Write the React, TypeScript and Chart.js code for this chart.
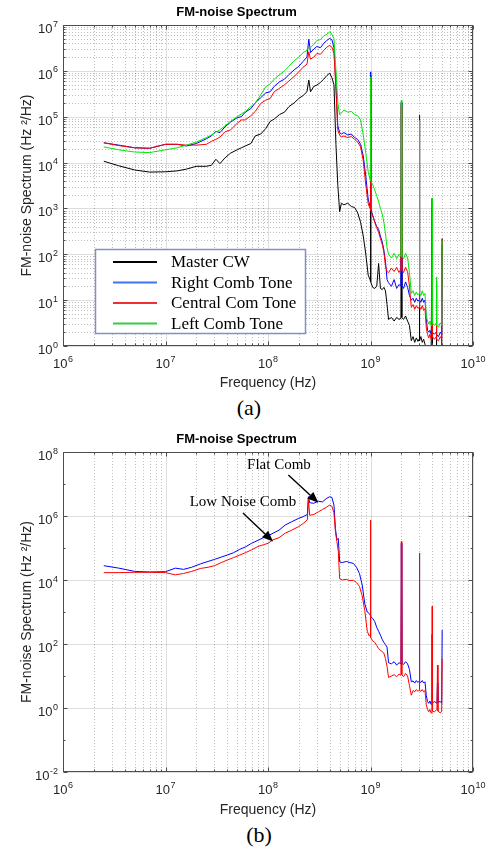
import React, { useEffect, useRef } from "react";
import { Chart, registerables } from "chart.js";

Chart.register(...registerables);

// ---------------- data: panel (a) ----------------
const FREQ_A = [
  2.5e6, 3.5e6, 5e6, 7e6, 1e7, 1.3e7, 1.6e7, 2e7, 2.5e7, 2.8e7,
  3.1e7, 3.4e7, 3.8e7, 4.3e7, 5e7, 5.5e7, 6e7, 6.8e7, 7.5e7, 8.5e7,
  9.5e7, 1.05e8, 1.15e8, 1.3e8, 1.45e8, 1.6e8, 1.8e8, 2e8, 2.2e8, 2.4e8,
  2.5e8, 2.6e8, 2.8e8, 3e8, 3.25e8, 3.5e8, 3.75e8, 4e8, 4.2e8, 4.4e8,
  4.6e8, 4.8e8, 5e8, 5.2e8, 5.5e8, 6e8, 6.5e8, 7e8, 7.5e8, 8e8,
  8.5e8, 9e8, 9.5e8, 9.9e8, 1e9, 1.01e9, 1.05e9, 1.1e9, 1.15e9, 1.2e9,
  1.25e9, 1.3e9, 1.35e9, 1.4e9, 1.45e9, 1.5e9, 1.6e9, 1.7e9, 1.8e9, 1.9e9,
  1.98e9, 2e9, 2.02e9, 2.1e9, 2.2e9, 2.3e9, 2.4e9, 2.5e9, 2.6e9, 2.7e9,
  2.8e9, 2.9e9, 2.98e9, 3e9, 3.02e9, 3.1e9, 3.2e9, 3.3e9, 3.4e9, 3.5e9,
  3.6e9, 3.7e9, 3.8e9, 3.9e9, 3.98e9, 4e9, 4.02e9, 4.2e9, 4.38e9, 4.4e9,
  4.42e9, 4.6e9, 4.8e9, 4.95e9, 5e9,
];

const MASTER_CW = [
  1.07e4, 8.5e3, 6.9e3, 6.2e3, 6.3e3, 6.6e3, 7.2e3, 8.3e3, 8.3e3, 8.7e3,
  1.18e4, 9.5e3, 1.26e4, 1.6e4, 1.9e4, 2.1e4, 2.3e4, 2.6e4, 3.8e4, 4.2e4,
  5.5e4, 7.9e4, 8.9e4, 1.12e5, 1.26e5, 1.66e5, 2e5, 2.5e5, 2.9e5, 3.5e5,
  6.3e5, 3.5e5, 4.6e5, 4.9e5, 5.6e5, 6.6e5, 7.9e5, 8.9e5, 7.1e5, 5e5,
  2.5e4, 3.2e3, 850, 1.3e3, 1.2e3, 1.3e3, 1.1e3, 1.05e3, 800, 500,
  250, 100, 35, 28, 8e5, 25, 19, 18, 20, 63,
  18, 17, 19, 16, 8, 3.8, 4.2, 3.5, 4.2, 3.8,
  4, 2.1e5, 4.2, 3.8, 4.5, 3.5, 2.8, 1.3, 1.6, 1.2,
  1.5, 1.26, 1.4, 8.5e4, 1.3, 1.6, 1.2, 1.4, 1.1, 0.8,
  0.63, 0.5, 0.56, 0.5, 0.5, 1.66e3, 0.5, 0.5, 0.5, 32,
  0.5, 0.5, 0.5, 0.5, 220,
];

const RIGHT_COMB = [
  2.7e4, 2.4e4, 2.1e4, 2.05e4, 2.5e4, 2.5e4, 2.3e4, 2.6e4, 3.3e4, 3.8e4,
  4.8e4, 4.5e4, 6e4, 7.6e4, 9.5e4, 1e5, 1.26e5, 1.5e5, 2e5, 2.6e5,
  3.3e5, 3.5e5, 4.6e5, 5.8e5, 6.6e5, 8.3e5, 1.05e6, 1.26e6, 1.6e6, 2e6,
  4.9e6, 2.5e6, 3e6, 3.4e6, 3.2e6, 4e6, 4.6e6, 5.1e6, 4.8e6, 3.2e6,
  5e5, 6.3e4, 4.5e4, 4.2e4, 4.5e4, 4e4, 4.2e4, 3.5e4, 3.2e4, 2.5e4,
  1.4e4, 5e3, 1.6e3, 1.1e3, 9.5e5, 1e3, 700, 520, 400, 350,
  250, 190, 125, 70, 28, 24, 20, 28, 18, 22,
  20, 2e5, 21, 18, 25, 19, 12.6, 10, 11, 9,
  11, 9.5, 10, 1.1e5, 10, 9, 11, 9, 10, 4,
  2.2, 2, 2.2, 1.8, 2, 1e3, 2, 1.8, 2, 25,
  1.8, 1.6, 2, 1.8, 160,
];

const CENTRAL_COMB = [
  2.7e4, 2.35e4, 2.1e4, 2.05e4, 2.5e4, 2.5e4, 2.4e4, 2.4e4, 2.5e4, 2.9e4,
  3.2e4, 3.6e4, 4.7e4, 5.1e4, 7.2e4, 8.5e4, 8.5e4, 1.05e5, 1.3e5, 1.95e5,
  2.3e5, 2.5e5, 3.5e5, 4.2e5, 5e5, 6e5, 7.6e5, 9.5e5, 1.2e6, 1.4e6,
  2.6e6, 1.8e6, 2e6, 2.4e6, 2.3e6, 2.8e6, 3.3e6, 3.6e6, 3.3e6, 2.4e6,
  4e5, 5e4, 4e4, 3.6e4, 3.8e4, 3.5e4, 3.7e4, 3.2e4, 2.8e4, 2.2e4,
  1.1e4, 3.2e3, 1.26e3, 1e3, 7e5, 900, 700, 500, 380, 300,
  220, 166, 112, 56, 42, 40, 50, 42, 52, 40,
  48, 1.8e5, 45, 40, 52, 42, 20, 7, 8, 6.3,
  7.6, 6.6, 7, 8e4, 7, 6.3, 7.6, 6, 6.6, 2.5,
  1.8, 1.5, 1.8, 1.4, 1.66, 800, 1.6, 1.4, 1.6, 16,
  1.4, 1.3, 1.6, 1.4, 220,
];

const LEFT_COMB = [
  2.2e4, 1.9e4, 1.7e4, 1.65e4, 1.9e4, 2.1e4, 2.4e4, 2.8e4, 3.5e4, 4e4,
  4.6e4, 5.2e4, 6.3e4, 7.9e4, 1e5, 1.15e5, 1.3e5, 1.66e5, 2e5, 3e5,
  4.5e5, 5.2e5, 6.6e5, 8.3e5, 1e6, 1.26e6, 1.66e6, 2e6, 2.5e6, 2.8e6,
  3.3e6, 3.2e6, 3.8e6, 4.6e6, 4.8e6, 5.8e6, 6.3e6, 7.1e6, 6.3e6, 5e6,
  1.05e6, 2e5, 1.1e5, 1.2e5, 1.4e5, 1.26e5, 1.3e5, 1.12e5, 1.05e5, 8.5e4,
  4e4, 1.6e4, 6.3e3, 4.2e3, 7.4e5, 4e3, 3.3e3, 2.5e3, 1.9e3, 1.4e3,
  1e3, 760, 500, 280, 140, 100, 83, 105, 80, 100,
  90, 2.3e5, 90, 80, 105, 83, 40, 14, 16, 12.6,
  15, 13, 14, 8.3e4, 14, 12.6, 16, 12.6, 14, 4.5,
  3.5, 3, 3.5, 2.8, 3.3, 1.66e3, 3.2, 2.8, 3.2, 32,
  2.8, 2.6, 3.2, 2.8, 200,
];

// ---------------- data: panel (b) ----------------
const FREQ_B = [
  2.5e6, 3.5e6, 5e6, 7e6, 1e7, 1.25e7, 1.5e7, 1.8e7, 2.2e7, 2.6e7,
  3e7, 3.5e7, 4e7, 4.6e7, 5.3e7, 6e7, 6.9e7, 8e7, 9e7, 1e8,
  1.12e8, 1.28e8, 1.47e8, 1.7e8, 2e8, 2.2e8, 2.42e8, 2.48e8, 2.55e8, 2.8e8,
  3.1e8, 3.4e8, 3.7e8, 4e8, 4.2e8, 4.4e8, 4.55e8, 4.7e8, 4.85e8, 5e8,
  5.3e8, 5.8e8, 6.3e8, 6.8e8, 7.3e8, 7.8e8, 8.3e8, 8.8e8, 9.3e8, 9.7e8,
  9.95e8, 1e9, 1.005e9, 1.05e9, 1.1e9, 1.15e9, 1.2e9, 1.25e9, 1.3e9, 1.35e9,
  1.4e9, 1.45e9, 1.5e9, 1.6e9, 1.7e9, 1.8e9, 1.9e9, 1.98e9, 2e9, 2.02e9,
  2.1e9, 2.2e9, 2.3e9, 2.4e9, 2.5e9, 2.6e9, 2.7e9, 2.8e9, 2.9e9, 2.98e9,
  3e9, 3.02e9, 3.1e9, 3.2e9, 3.3e9, 3.4e9, 3.5e9, 3.6e9, 3.7e9, 3.8e9,
  3.9e9, 3.98e9, 4e9, 4.02e9, 4.2e9, 4.45e9, 4.5e9, 4.55e9, 4.8e9, 4.95e9,
  5e9,
];

const FLAT_COMB = [
  2.8e4, 2.35e4, 1.86e4, 1.78e4, 1.82e4, 2.35e4, 2.15e4, 2.5e4, 3.2e4, 3.8e4,
  4.4e4, 5.2e4, 6e4, 7.1e4, 9.1e4, 1.07e5, 1.4e5, 1.74e5, 2.1e5, 2.4e5,
  2.9e5, 3.6e5, 5.2e5, 6.6e5, 8.5e5, 9.5e5, 1.12e6, 4e6, 2.6e6, 2.5e6,
  2.9e6, 2.75e6, 3.5e6, 4e6, 3.8e6, 2.2e6, 4e5, 1.8e5, 2e5, 3.7e4,
  3.5e4, 3.8e4, 3.5e4, 3.3e4, 2.5e4, 1.6e4, 7e3, 1.8e3, 1e3, 900,
  800, 760, 720, 630, 500, 330, 250, 190, 140, 112,
  95, 80, 26, 24, 28, 22, 26, 24, 1.4e5, 25,
  23, 28, 24, 16, 6.6, 7, 6, 7.2, 6.3, 6.9,
  7e4, 6.6, 6.3, 7.2, 6, 6.6, 2.5, 1.6, 1.4, 1.66,
  1.3, 1.5, 200, 1.4, 1.6, 1.4, 6, 1.5, 1.6, 1.4,
  275,
];

const LOW_NOISE_COMB = [
  1.7e4, 1.7e4, 1.74e4, 1.74e4, 1.7e4, 1.45e4, 1.6e4, 1.86e4, 2.3e4, 2.5e4,
  2.8e4, 3.5e4, 4.2e4, 5e4, 6e4, 7.1e4, 8.7e4, 1.12e5, 1.26e5, 1.4e5,
  1.8e5, 2.1e5, 2.9e5, 3.6e5, 4.7e5, 5.8e5, 7.6e5, 3.5e6, 1.05e6, 1.12e6,
  1.35e6, 1.6e6, 1.86e6, 2.2e6, 2e6, 1.26e6, 3.2e5, 1.6e5, 8e4, 1.1e4,
  1e4, 1.05e4, 9.5e3, 9.8e3, 8.3e3, 6.3e3, 3.2e3, 1.1e3, 250, 180,
  200, 7.5e5, 160, 126, 112, 90, 72, 63, 58, 52,
  35, 20, 9, 10, 11, 9.5, 11.5, 10.5, 1.6e5, 11,
  9.5, 12, 10, 5, 2.5, 3.5, 3.2, 3.8, 3.3, 3.6,
  7e4, 3.5, 3.3, 3.8, 3.2, 3.5, 1.26, 0.9, 0.76, 0.9,
  0.7, 0.83, 1.5e3, 0.8, 0.76, 0.9, 22, 0.8, 0.7, 0.8,
  35,
];

// ---------------- axes / text ----------------
const X_TICKS = [1e6, 1e7, 1e8, 1e9, 1e10];
const Y_TICKS_A = [1, 1e1, 1e2, 1e3, 1e4, 1e5, 1e6, 1e7];
const Y_TICKS_B = [1e-2, 1, 1e2, 1e4, 1e6, 1e8];

const LEGEND_LABELS_A = ["Master CW", "Right Comb Tone", "Central Com Tone", "Left Comb Tone"];
const LABELS_B = ["Flat Comb", "Low Noise Comb"];

// annotation anchors in data coordinates (frequency, spectrum value)
const NOTES_B = [
  { text: "Flat Comb", textX: 1.28e8, textY: 3.9e7, fromX: 1.58e8, fromY: 1.9e7, toX: 3.1e8, toY: 2.6e6 },
  { text: "Low Noise Comb", textX: 5.7e7, textY: 2.75e6, fromX: 5.7e7, fromY: 1.25e6, toX: 1.12e8, toY: 1.6e5 },
];

const TITLE = "FM-noise Spectrum";
const X_TITLE = "Frequency (Hz)";
const Y_TITLE = "FM-noise Spectrum (Hz \u00B2/Hz)";

const SANS = "'Liberation Sans', Arial, Helvetica, sans-serif";
const SERIF = "'Liberation Serif', 'Times New Roman', serif";
const TEXT_COLOR = "#262626";

function exponentOf(v: number): string {
  return String(Math.round(Math.log10(v)));
}

function minorValues(ticks: number[]): number[] {
  const out: number[] = [];
  for (let i = 0; i < ticks.length - 1; i++) {
    const lo = ticks[i];
    const hi = ticks[i + 1];
    if (hi / lo > 10.5) {
      for (let d = lo * 10; d < hi * 0.99; d *= 10) out.push(d);
    } else {
      for (let m = 2; m <= 9; m++) out.push(lo * m);
    }
  }
  return out;
}

function seg(ctx: CanvasRenderingContext2D, x1: number, y1: number, x2: number, y2: number) {
  ctx.beginPath();
  ctx.moveTo(x1, y1);
  ctx.lineTo(x2, y2);
  ctx.stroke();
}

// draws "10" with a raised exponent, MATLAB style
function drawPow(
  ctx: CanvasRenderingContext2D,
  v: number,
  x: number,
  y: number,
  align: "center" | "right",
  baseDy: number,
  expDy: number
) {
  const e = exponentOf(v);
  ctx.font = `13px ${SANS}`;
  const wb = ctx.measureText("10").width;
  ctx.font = `9px ${SANS}`;
  const we = ctx.measureText(e).width;
  const total = wb + 0.5 + we;
  const x0 = align === "center" ? x - total / 2 : x - total;
  ctx.textAlign = "left";
  ctx.textBaseline = "alphabetic";
  ctx.fillStyle = TEXT_COLOR;
  ctx.font = `13px ${SANS}`;
  ctx.fillText("10", x0, y + baseDy);
  ctx.font = `9px ${SANS}`;
  ctx.fillText(e, x0 + wb + 0.5, y + expDy);
}

const framePlugin = {
  id: "frame",
  beforeDatasetsDraw(chart: any, _a: any, opts: any) {
    const { ctx, chartArea: ca, scales } = chart;
    const xs = scales.x;
    const ys = scales.y;
    ctx.save();
    ctx.lineWidth = 1;
    ctx.strokeStyle = "rgba(0,0,0,0.25)";
    ctx.setLineDash([1, 2]);
    for (const v of minorValues(opts.xTicks)) {
      const px = Math.round(xs.getPixelForValue(v)) + 0.5;
      seg(ctx, px, ca.top, px, ca.bottom);
    }
    if (opts.yMinorGrid) {
      for (const v of minorValues(opts.yTicks)) {
        const py = Math.round(ys.getPixelForValue(v)) + 0.5;
        seg(ctx, ca.left, py, ca.right, py);
      }
    }
    ctx.setLineDash([]);
    ctx.strokeStyle = "rgba(0,0,0,0.13)";
    for (const v of opts.xTicks) {
      const px = Math.round(xs.getPixelForValue(v)) + 0.5;
      seg(ctx, px, ca.top, px, ca.bottom);
    }
    for (const v of opts.yTicks) {
      const py = Math.round(ys.getPixelForValue(v)) + 0.5;
      seg(ctx, ca.left, py, ca.right, py);
    }
    ctx.restore();
  },
  afterDatasetsDraw(chart: any, _a: any, opts: any) {
    const { ctx, chartArea: ca, scales } = chart;
    const xs = scales.x;
    const ys = scales.y;
    ctx.save();
    ctx.strokeStyle = "#4d4d4d";
    ctx.lineWidth = 1;
    const L = Math.round(ca.left) + 0.5;
    const R = Math.round(ca.right) - 0.5;
    const T = Math.round(ca.top) + 0.5;
    const B = Math.round(ca.bottom) - 0.5;
    ctx.strokeRect(L, T, R - L, B - T);
    const tickX = (v: number, len: number) => {
      const px = Math.round(xs.getPixelForValue(v)) + 0.5;
      seg(ctx, px, B, px, B - len);
      seg(ctx, px, T, px, T + len);
    };
    const tickY = (v: number, len: number) => {
      const py = Math.round(ys.getPixelForValue(v)) + 0.5;
      seg(ctx, L, py, L + len, py);
      seg(ctx, R, py, R - len, py);
    };
    opts.xTicks.forEach((v: number) => tickX(v, 4));
    minorValues(opts.xTicks).forEach((v: number) => tickX(v, 2));
    opts.yTicks.forEach((v: number) => tickY(v, 4));
    minorValues(opts.yTicks).forEach((v: number) => tickY(v, 2));
    // tick labels (power-of-ten with superscript exponent)
    for (const v of opts.xTicks) {
      drawPow(ctx, v, xs.getPixelForValue(v), ca.bottom, "center", 21.5, 15.5);
    }
    for (const v of opts.yTicks) {
      drawPow(ctx, v, ca.left - 5, ys.getPixelForValue(v), "right", 8, 1.5);
    }
    ctx.restore();
  },
};

const boxLegendPlugin = {
  id: "boxLegend",
  afterDatasetsDraw(chart: any, _a: any, opts: any) {
    if (!opts || !opts.show) return;
    const { ctx, chartArea: ca } = chart;
    const x0 = ca.left + opts.offsetX;
    const y0 = ca.top + opts.offsetY;
    ctx.save();
    ctx.fillStyle = "#ffffff";
    ctx.fillRect(x0, y0, opts.width, opts.height);
    ctx.strokeStyle = "#7f93bf";
    ctx.lineWidth = 1.5;
    ctx.strokeRect(x0 + 0.5, y0 + 0.5, opts.width, opts.height);
    ctx.font = `17px ${SERIF}`;
    ctx.textBaseline = "middle";
    ctx.textAlign = "left";
    chart.data.datasets.forEach((ds: any, i: number) => {
      const cy = y0 + opts.firstRow + i * opts.rowGap;
      ctx.strokeStyle = ds.legendColor || ds.borderColor;
      ctx.lineWidth = 2;
      seg(ctx, x0 + 18, cy, x0 + 62, cy);
      ctx.fillStyle = "#000";
      ctx.fillText(ds.label, x0 + 76, cy + 1);
    });
    ctx.restore();
  },
};

const arrowNotesPlugin = {
  id: "arrowNotes",
  afterDatasetsDraw(chart: any, _a: any, opts: any) {
    if (!opts || !opts.notes) return;
    const { ctx, scales } = chart;
    const xs = scales.x;
    const ys = scales.y;
    ctx.save();
    ctx.font = `15px ${SERIF}`;
    ctx.textAlign = "center";
    ctx.textBaseline = "middle";
    for (const n of opts.notes) {
      ctx.fillStyle = "#000";
      ctx.fillText(n.text, xs.getPixelForValue(n.textX), ys.getPixelForValue(n.textY));
      const fx = xs.getPixelForValue(n.fromX);
      const fy = ys.getPixelForValue(n.fromY);
      const tx = xs.getPixelForValue(n.toX);
      const ty = ys.getPixelForValue(n.toY);
      const ang = Math.atan2(ty - fy, tx - fx);
      const hl = 11;
      const hw = 4.5;
      const bx = tx - hl * Math.cos(ang);
      const by = ty - hl * Math.sin(ang);
      ctx.strokeStyle = "#000";
      ctx.lineWidth = 1.4;
      seg(ctx, fx, fy, bx, by);
      ctx.beginPath();
      ctx.moveTo(tx, ty);
      ctx.lineTo(bx + hw * Math.sin(ang), by - hw * Math.cos(ang));
      ctx.lineTo(bx - hw * Math.sin(ang), by + hw * Math.cos(ang));
      ctx.closePath();
      ctx.fillStyle = "#000";
      ctx.fill();
    }
    ctx.restore();
  },
};

function series(freq: number[], vals: number[]) {
  return freq.map((f, i) => ({ x: f, y: vals[i] }));
}

function lineDs(label: string, freq: number[], vals: number[], color: string, order: number, legendColor?: string) {
  return {
    label,
    data: series(freq, vals),
    borderColor: color,
    legendColor,
    backgroundColor: color,
    borderWidth: 1,
    pointRadius: 0,
    tension: 0,
    fill: false,
    order,
  };
}

function makeConfig(p: {
  datasets: any[];
  yMin: number;
  yMax: number;
  yTicks: number[];
  yMinorGrid: boolean;
  xAxisHeight: number;
  legend?: any;
  notes?: any[];
}): any {
  return {
    type: "line",
    data: { datasets: p.datasets },
    plugins: [framePlugin, boxLegendPlugin, arrowNotesPlugin],
    options: {
      animation: false,
      responsive: false,
      devicePixelRatio: 1,
      events: [],
      layout: { padding: { left: 0, right: 17, top: 0, bottom: 0 } },
      plugins: {
        legend: { display: false },
        tooltip: { enabled: false },
        title: {
          display: true,
          text: TITLE,
          color: "#000",
          font: { family: SANS, size: 13, weight: "bold" },
          padding: { top: 5, bottom: 4.4 },
        },
        frame: { xTicks: X_TICKS, yTicks: p.yTicks, yMinorGrid: p.yMinorGrid },
        boxLegend: p.legend || { show: false },
        arrowNotes: { notes: p.notes },
      },
      scales: {
        x: {
          type: "logarithmic",
          min: 1e6,
          max: 1e10,
          afterBuildTicks: (s: any) => {
            s.ticks = X_TICKS.map((v) => ({ value: v }));
          },
          afterFit: (s: any) => {
            s.height = p.xAxisHeight;
          },
          grid: { display: false, drawTicks: false },
          border: { display: false },
          ticks: { display: false },
          title: {
            display: true,
            text: X_TITLE,
            color: TEXT_COLOR,
            font: { family: SANS, size: 14 },
            padding: { top: 0, bottom: 3.6 },
          },
        },
        y: {
          type: "logarithmic",
          min: p.yMin,
          max: p.yMax,
          afterBuildTicks: (s: any) => {
            s.ticks = p.yTicks.map((v) => ({ value: v }));
          },
          afterFit: (s: any) => {
            s.width = 63;
          },
          grid: { display: false, drawTicks: false },
          border: { display: false },
          ticks: { display: false },
          title: {
            display: true,
            text: Y_TITLE,
            color: TEXT_COLOR,
            font: { family: SANS, size: 14 },
            padding: { top: 19, bottom: 0 },
          },
        },
      },
    },
  };
}

function ChartCanvas({ top, height, build }: { top: number; height: number; build: () => any }) {
  const ref = useRef<HTMLCanvasElement | null>(null);
  useEffect(() => {
    if (!ref.current) return;
    const chart = new Chart(ref.current, build());
    return () => chart.destroy();
  }, []);
  return (
    <canvas
      ref={ref}
      width={490}
      height={height}
      style={{ position: "absolute", left: 0, top, width: 490, height, display: "block" }}
    />
  );
}

const buildA = () =>
  makeConfig({
    datasets: [
      lineDs(LEGEND_LABELS_A[0], FREQ_A, MASTER_CW, "#000000", 4),
      lineDs(LEGEND_LABELS_A[1], FREQ_A, RIGHT_COMB, "#0000ff", 3, "#3f74f0"),
      lineDs(LEGEND_LABELS_A[2], FREQ_A, CENTRAL_COMB, "#ff0000", 2, "#f03030"),
      lineDs(LEGEND_LABELS_A[3], FREQ_A, LEFT_COMB, "#00e600", 1, "#33cc44"),
    ],
    yMin: 1,
    yMax: 1e7,
    yTicks: Y_TICKS_A,
    yMinorGrid: true,
    xAxisHeight: 49,
    legend: { show: true, offsetX: 32, offsetY: 224, width: 210, height: 84, firstRow: 13, rowGap: 20.5 },
  });

const buildB = () =>
  makeConfig({
    datasets: [
      lineDs(LABELS_B[0], FREQ_B, FLAT_COMB, "#0000ff", 2),
      lineDs(LABELS_B[1], FREQ_B, LOW_NOISE_COMB, "#ff0000", 1),
    ],
    yMin: 1e-2,
    yMax: 1e8,
    yTicks: Y_TICKS_B,
    yMinorGrid: false,
    xAxisHeight: 50,
    notes: NOTES_B,
  });

const captionStyle = (top: number, center: number): React.CSSProperties => ({
  position: "absolute",
  left: center - 40,
  width: 80,
  top,
  textAlign: "center",
  fontFamily: SERIF,
  fontSize: 22,
  lineHeight: "24px",
  color: "#000",
});

export default function App() {
  return (
    <div style={{ position: "absolute", left: 0, top: 0, width: 490, height: 850, background: "#fff", overflow: "hidden" }}>
      <ChartCanvas top={0} height={395} build={buildA} />
      <div style={captionStyle(396, 249)}>(a)</div>
      <ChartCanvas top={427} height={395} build={buildB} />
      <div style={captionStyle(823, 259)}>(b)</div>
    </div>
  );
}
